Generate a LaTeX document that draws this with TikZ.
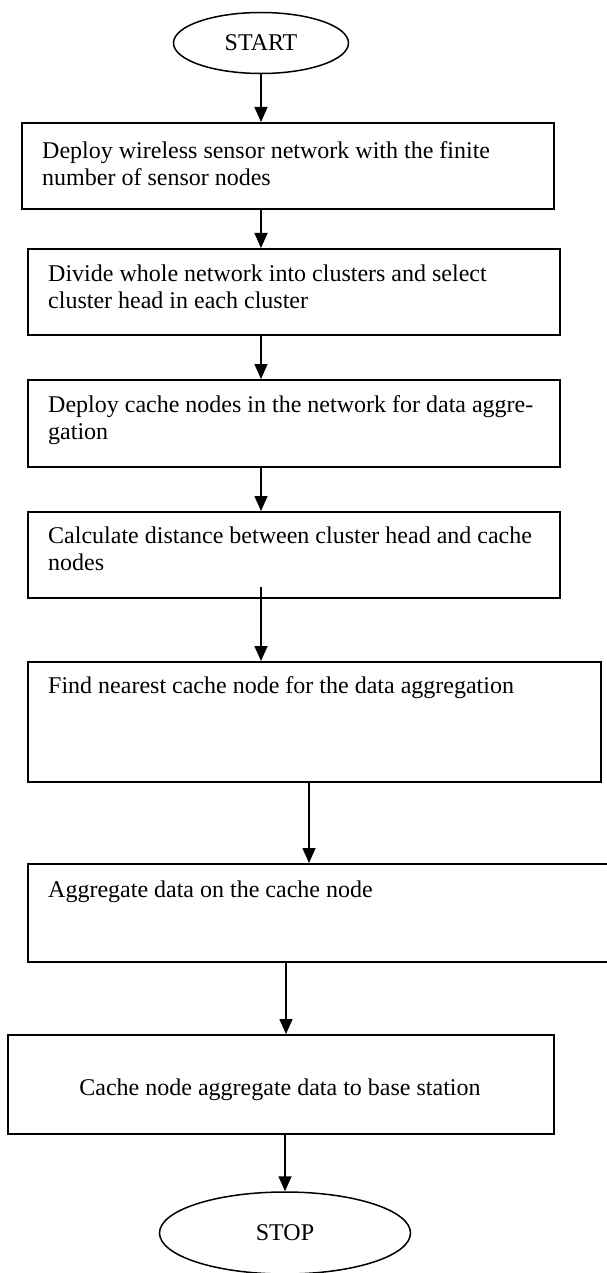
\documentclass[tikz,border=0pt]{standalone}
\usepackage{fontspec}
\setmainfont{Liberation Serif}
\usetikzlibrary{shapes.geometric,arrows.meta,calc}
\begin{document}
\begin{tikzpicture}[x=1pt,y=1pt,
  box/.style={draw, line width=1.6pt, rectangle, anchor=north west, inner sep=0pt},
  term/.style={draw, ellipse, line width=1.5pt, inner sep=0pt, font=\fontsize{24}{27}\selectfont},
  txt/.style={anchor=base west, inner sep=0pt, font=\fontsize{24}{27}\selectfont},
  arr/.style={line width=1.6pt, -{Triangle[width=13pt,length=15pt]}}
]
\useasboundingbox (0,0) rectangle (606,-1273);
\fill[white] (0,0) rectangle (606,-1273);

% terminals
\node[term, minimum width=175pt, minimum height=61pt] (start) at (261,-43) {START};
\node[term, minimum width=251pt, minimum height=82pt] (stop) at (285,-1233) {STOP};

% process boxes
\node[box, minimum width=532pt, minimum height=86pt] (b1) at (21,-122) {};
\node[box, minimum width=532pt, minimum height=86pt] (b2) at (27,-248) {};
\node[box, minimum width=532pt, minimum height=87pt] (b3) at (27,-379) {};
\node[box, minimum width=532pt, minimum height=86pt] (b4) at (27,-511) {};
\node[box, minimum width=573pt, minimum height=120pt] (b5) at (27,-661) {};
\node[box, minimum width=590pt, minimum height=98pt] (b6) at (27,-863) {};
\node[box, minimum width=546pt, minimum height=99pt] (b7) at (7,-1034) {};

% texts
\node[txt] (t1) at (42,-159) {\parbox[t]{540pt}{Deploy wireless sensor network with the finite\\number of sensor nodes}};
\node[txt] (t2) at (48,-281) {\parbox[t]{540pt}{Divide whole network into clusters and select\\cluster head in each cluster}};
\node[txt] (t3) at (48,-412) {\parbox[t]{540pt}{Deploy cache nodes in the network for data aggre-\\gation}};
\node[txt] (t4) at (48,-543) {\parbox[t]{540pt}{Calculate distance between cluster head and cache\\nodes}};
\node[txt] (t5) at (48,-693) {Find nearest cache node for the data aggregation};
\node[txt] (t6) at (48,-897) {Aggregate data on the cache node};
\node[txt, anchor=base] (t7) at (280,-1095) {Cache node aggregate data to base station};

% arrow columns
\coordinate (c5) at (309,0);
\coordinate (c6) at (286,0);

% connectors
\draw[arr] (start.south) -- (start.south |- b1.north);
\draw[arr] (b1.south -| start) -- (b2.north -| start);
\draw[arr] (b2.south -| start) -- (b3.north -| start);
\draw[arr] (b3.south -| start) -- (b4.north -| start);
\draw[arr] ($(b4.south -| start)+(0,12)$) -- (b5.north -| start);
\draw[arr] (b5.south -| c5) -- (b6.north -| c5);
\draw[arr] (b6.south -| c6) -- (b7.north -| c6);
\draw[arr] (b7.south -| stop) -- (stop.north);
\end{tikzpicture}
\end{document}
